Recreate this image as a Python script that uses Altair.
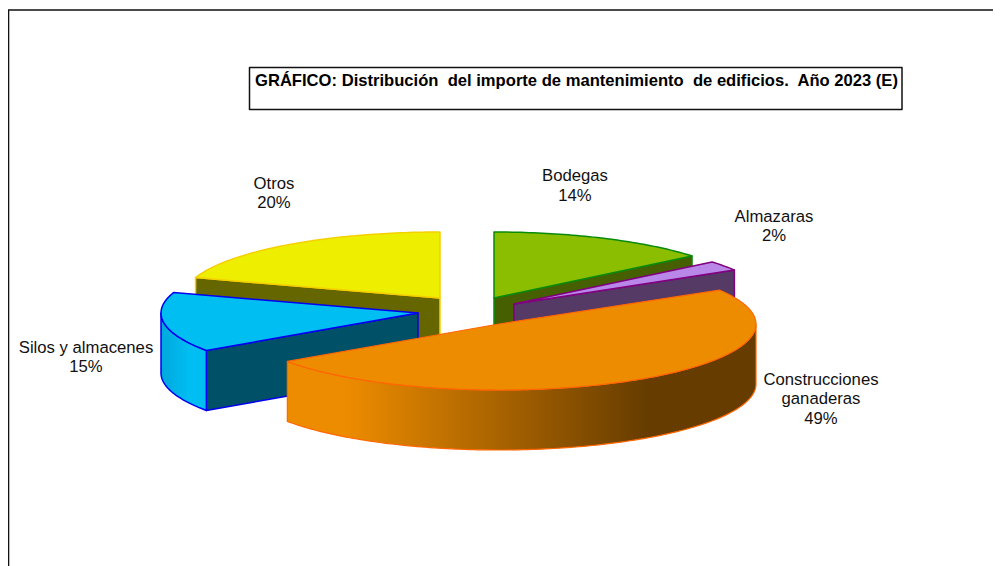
import math
import altair as alt

# chart values
names = ["Bodegas", "Almazaras", "Construcciones ganaderas", "Silos y almacenes", "Otros"]
shares = [14.0, 2.4, 49.0, 14.6, 20.0]
percent_labels = ["14%", "2%", "49%", "15%", "20%"]
title_text = "GRÁFICO: Distribución\u00a0 del importe de mantenimiento\u00a0 de edificios.\u00a0 Año 2023 (E)"

# layout of the exploded 3D pie (canvas pixels)
W, H = 985, 558
RX, RY, DEPTH = 257, 66, 60
apexes = [(486, 290), (506, 296), (491, 316), (410, 305), (432, 290)]
top_colors = ["#8CBE00", "#B987E8", "#EE8C00", "#00BDF2", "#EEEE00"]
wall_colors = ["#465F00", "#553A66", "#EE8C00", "#005068", "#666600"]
stroke_colors = ["#0A8A0A", "#800080", "#FF6600", "#0000F0", "#F5D000"]
label_lines = [
    [("Bodegas", 567, 168), ("14%", 567, 188)],
    [("Almazaras", 766, 209), ("2%", 766, 228)],
    [("Construcciones", 813, 372), ("ganaderas", 813, 391), ("49%", 813, 411)],
    [("Silos y almacenes", 78, 340), ("15%", 78, 359)],
    [("Otros", 266, 176), ("20%", 266, 195)],
]

bounds = [0.0]
for s in shares:
    bounds.append(bounds[-1] + s * 3.6)


def pt(i, deg, dz=0):
    a = math.radians(deg)
    cx, cy = apexes[i]
    return [cx + RX * math.sin(a), cy - RY * math.cos(a) + dz]


def arc(i, d0, d1, dz=0):
    n = max(2, int(abs(d1 - d0)) + 1)
    return [pt(i, d0 + (d1 - d0) * k / n, dz) for k in range(n + 1)]


def polygon(points):
    pts = list(points)
    if pts[0] != pts[-1]:
        pts.append(pts[0])
    return {"type": "Feature", "properties": {}, "geometry": {"type": "Polygon", "coordinates": [pts]}}


def shape(points, fill, stroke, width=1.5):
    return alt.Chart(alt.Data(values=[polygon(points)])).mark_geoshape(
        fill=fill, stroke=stroke, strokeWidth=width, strokeJoin="round"
    )


def radial_wall(i, deg):
    a = list(apexes[i])
    p = pt(i, deg)
    return [a, p, [p[0], p[1] + DEPTH], [a[0], a[1] + DEPTH]]


def top_face(i):
    return [list(apexes[i])] + arc(i, bounds[i], bounds[i + 1])


def outer_wall(i, d0, d1):
    return arc(i, d0, d1) + arc(i, d1, d0, DEPTH)


def hgrad(stops):
    return alt.Gradient(
        gradient="linear", x1=0, y1=0, x2=1, y2=0,
        stops=[alt.GradientStop(offset=o, color=c) for o, c in stops],
    )


layers = []
# full-canvas sheet keeps the planar projection at 1:1
layers.append(shape([[0, 0], [W, 0], [W, H], [0, H]], "#FFFFFF", "#FFFFFF", 0))
# page frame (top and left edges only)
frame = {"type": "Feature", "properties": {}, "geometry": {"type": "LineString", "coordinates": [[0.5, H], [0.5, 2], [W, 2]]}}
layers.append(alt.Chart(alt.Data(values=[frame])).mark_geoshape(filled=False, stroke="#111111", strokeWidth=1.6))
# title box
layers.append(shape([[241.5, 59.5], [894, 59.5], [894, 101.5], [241.5, 101.5]], "#FFFFFF", "#111111", 1.5))

# Otros, Bodegas, Almazaras: wall along the front radial, then top face
for i, deg in [(4, bounds[4]), (0, bounds[1]), (1, bounds[2])]:
    layers.append(shape(radial_wall(i, deg), wall_colors[i], stroke_colors[i]))
    layers.append(shape(top_face(i), top_colors[i], stroke_colors[i]))

# Silos y almacenes
layers.append(shape(radial_wall(3, bounds[3]), wall_colors[3], stroke_colors[3]))
layers.append(shape(outer_wall(3, bounds[3], 270),
                    hgrad([(0, "#00A8DC"), (0.6, "#00BDF2"), (1, "#00BDF2")]), stroke_colors[3]))
layers.append(shape(top_face(3), top_colors[3], stroke_colors[3]))

# Construcciones ganaderas
layers.append(shape(outer_wall(2, 90, bounds[3]),
                    hgrad([(0, "#EE8C00"), (0.12, "#EE8C00"), (0.77, "#663C00"), (1, "#663C00")]),
                    stroke_colors[2], 1.2))
layers.append(shape(top_face(2), top_colors[2], stroke_colors[2], 1.2))

# texts
rows = []
for lines in label_lines:
    for text, x, y in lines:
        rows.append({"t": text, "x": x, "y": y})
labels = alt.Chart(alt.Data(values=rows)).mark_text(
    font="Liberation Sans", fontSize=16.7, color="#111111", align="center", baseline="middle"
).encode(longitude="x:Q", latitude="y:Q", text="t:N")

title = alt.Chart(alt.Data(values=[{"t": title_text, "x": 247, "y": 72.5}])).mark_text(
    font="Liberation Sans", fontSize=16.6, fontWeight="bold", color="#000000", align="left", baseline="middle"
).encode(longitude="x:Q", latitude="y:Q", text="t:N")

chart = alt.layer(*layers, labels, title).properties(
    width=W, height=H, padding=0, autosize=alt.AutoSizeParams(type="none"),
    projection=alt.Projection(type="identity", scale=1, translate=[0, 0]),
    background="#FFFFFF",
).configure_view(stroke=None)

chart.save("out.html", embed_options={"renderer": "svg", "actions": False})
